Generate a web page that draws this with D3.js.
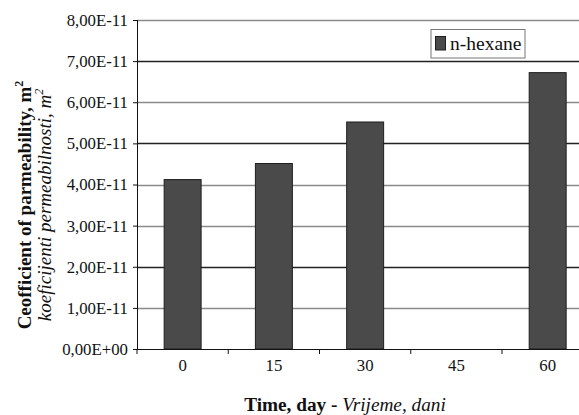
<!DOCTYPE html>
<html><head><meta charset="utf-8">
<script src="https://cdn.jsdelivr.net/npm/d3@7"></script>
<style>
html,body{margin:0;padding:0;background:#fff;}
svg text{font-family:"Liberation Serif","DejaVu Serif","Times New Roman",Times,serif !important;}
</style></head>
<body><svg id="c" width="579" height="415"></svg>
<script>
const categories = ["0", "15", "30", "45", "60"];
const values = [4.12e-11, 4.51e-11, 5.52e-11, null, 6.72e-11];
const yTicks = [0, 1e-11, 2e-11, 3e-11, 4e-11, 5e-11, 6e-11, 7e-11, 8e-11];
const seriesName = "n-hexane";

const svg = d3.select("#c");
const L = 137, R = 593.3, T = 20, B = 349;

const x = d3.scaleBand().domain(categories).range([L, R]).paddingInner(0.595).paddingOuter(0.2975);
const y = d3.scaleLinear().domain([0, 8e-11]).range([B, T]);

const fmt = v => {
  const s = v.toExponential(2).replace(".", ",");
  const [m, e] = s.split("e");
  const sign = e[0] === "-" ? "-" : "+";
  const ex = e.slice(1).padStart(2, "0");
  return m + "E" + sign + ex;
};

// gridlines
const darkSet = new Set([7e-11, 5e-11, 2e-11].map(v => v.toFixed(13)));
svg.append("g").selectAll("line").data(yTicks.filter(d => d > 0)).join("line")
  .attr("x1", L).attr("x2", 579)
  .attr("y1", d => Math.round(y(d)) + 0.5).attr("y2", d => Math.round(y(d)) + 0.5)
  .attr("stroke", d => darkSet.has(d.toFixed(13)) ? "#222" : "#8a8a8a")
  .attr("stroke-width", 1.3);

// bars
svg.append("g").selectAll("rect").data(categories.map((c, i) => ({c, v: values[i]})).filter(d => d.v != null)).join("rect")
  .attr("x", d => x(d.c)).attr("width", x.bandwidth())
  .attr("y", d => y(d.v)).attr("height", d => B - y(d.v))
  .attr("fill", "#4a4a4b").attr("stroke", "#1e1e1e").attr("stroke-width", 1);

// y axis
const yAxis = d3.axisLeft(y).tickValues(yTicks).tickFormat(fmt).tickSize(4).tickPadding(5);
const gy = svg.append("g").attr("transform", `translate(${L},0)`).call(yAxis);
gy.select(".domain").attr("stroke", "#111").attr("d", `M0.5,${T}V${B}`);
gy.selectAll(".tick line").attr("stroke", "#111");
gy.selectAll(".tick text").attr("font-size", 16.8).attr("fill", "#111");

// x axis
const xAxis = d3.axisBottom(x).tickSize(0).tickPadding(10);
const gx = svg.append("g").attr("transform", `translate(0,${B})`).call(xAxis);
gx.select(".domain").attr("stroke", "#111").attr("d", `M${L},0.5H${R}`);
gx.selectAll(".tick text").attr("font-size", 16.8).attr("fill", "#111");
// tick marks at category boundaries
gx.append("g").selectAll("line").data(categories).join("line")
  .attr("x1", c => x(c) - (x.step() - x.bandwidth()) / 2)
  .attr("x2", c => x(c) - (x.step() - x.bandwidth()) / 2)
  .attr("y1", 0).attr("y2", 5).attr("stroke", "#111");

// x title
const xt = svg.append("text").attr("x", 345).attr("y", 411).attr("text-anchor", "middle")
  .attr("font-size", 19.3).attr("fill", "#111");
xt.append("tspan").attr("font-weight", "bold").text("Time, day - ");
xt.append("tspan").attr("font-style", "italic").text("Vrijeme, dani");

// y title
const yt = svg.append("g").attr("transform", "translate(31,205) rotate(-90)");
const t1 = yt.append("text").attr("text-anchor", "middle").attr("font-size", 19).attr("font-weight", "bold").attr("fill", "#111");
t1.append("tspan").text("Ceofficient of parmeability, m");
t1.append("tspan").attr("font-size", 12).attr("dy", -8).text("2");
const t2 = yt.append("text").attr("y", 19.5).attr("text-anchor", "middle").attr("font-size", 19).attr("font-style", "italic").attr("fill", "#111");
t2.append("tspan").text("koeficijenti permeabilnosti, m");
t2.append("tspan").attr("font-size", 12).attr("dy", -8).text("2");

// legend
const lg = svg.append("g");
lg.append("rect").attr("x", 431).attr("y", 29.5).attr("width", 94).attr("height", 28.5)
  .attr("fill", "#fff").attr("stroke", "#777").attr("stroke-width", 1);
lg.append("rect").attr("x", 435.5).attr("y", 36.5).attr("width", 10).attr("height", 13.5)
  .attr("fill", "#4a4a4b").attr("stroke", "#1e1e1e");
lg.append("text").attr("x", 450).attr("y", 49.5).attr("font-size", 19.5).attr("fill", "#111").text(seriesName);
</script></body></html>
